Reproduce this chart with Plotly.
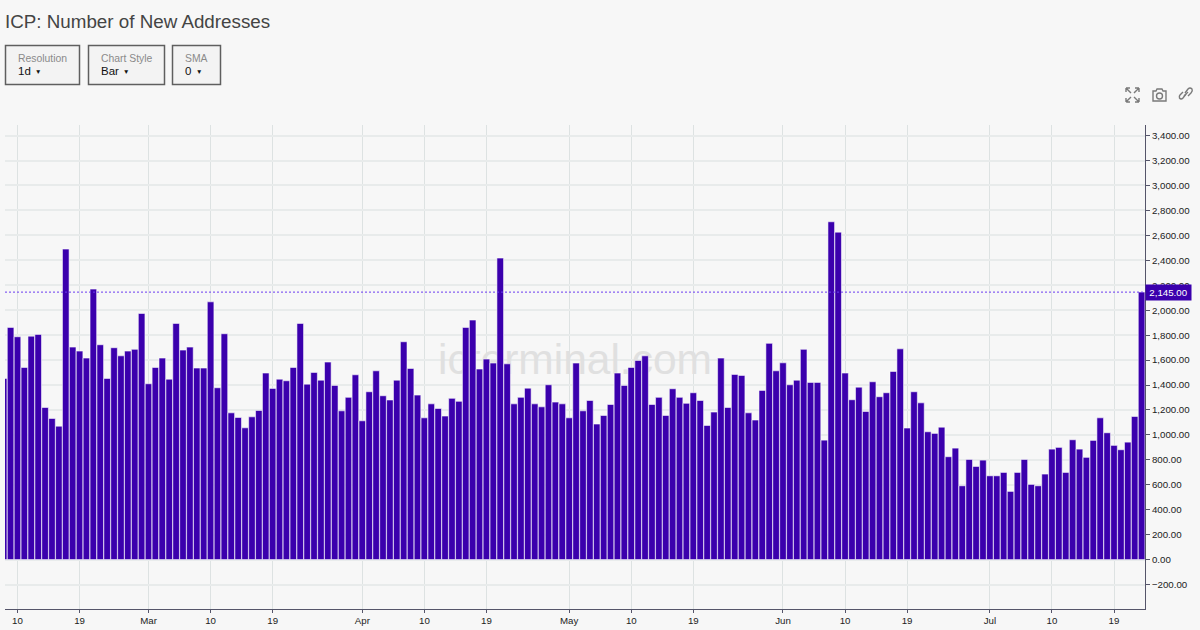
import pandas as pd
import plotly.graph_objects as go

FONT = "Liberation Sans"
TICK_FONT = "Liberation Sans"
BAR_COLOR = "#3b00ad"

values = [
    1453, 1862, 1787, 1541, 1792, 1806, 1220, 1132, 1070, 2490, 1704, 1672, 1616, 2169, 1723, 1453,
    1699, 1634, 1672, 1686, 1974,
    1410, 1541, 1616, 1447, 1894, 1680, 1704, 1536, 1536, 2067, 1378, 1811, 1177, 1140, 1057, 1145,
    1196, 1496, 1373, 1447, 1434, 1541, 1894, 1407, 1501, 1439, 1584, 1397, 1193, 1301, 1482,
    1113, 1346, 1514, 1314, 1280, 1439, 1747, 1533, 1319, 1137, 1249, 1212, 1151, 1293, 1269, 1862,
    1921, 1528, 1608, 1576, 2418, 1570, 1249, 1301, 1375, 1249, 1225, 1402, 1263, 1249,
    1137, 1576, 1193, 1276, 1087, 1156, 1244, 1496, 1397, 1541, 1597, 1634, 1244, 1301, 1156, 1370,
    1301, 1253, 1338, 1276, 1076, 1183, 1616, 1220, 1485, 1477, 1177, 1119, 1357, 1734, 1514,
    1578, 1402, 1439, 1686, 1421, 1421, 958, 2709, 2626, 1496, 1282, 1383, 1188, 1426, 1306, 1338,
    1509, 1690, 1055, 1346, 1257, 1025, 1012, 1062, 825, 894, 592, 803, 747, 798,
    672, 672, 699, 547, 699, 803, 603, 592, 686, 886, 900, 699, 961, 886, 820, 956, 1137, 1017,
    916, 881, 942, 1148, 2145,
]
dates = pd.date_range("2023-02-08", periods=len(values), freq="D")

x_tick_dates = ["2023-02-10", "2023-02-19", "2023-03-01", "2023-03-10", "2023-03-19", "2023-04-01",
                "2023-04-10", "2023-04-19", "2023-05-01", "2023-05-10", "2023-05-19", "2023-06-01",
                "2023-06-10", "2023-06-19", "2023-07-01", "2023-07-10", "2023-07-19"]
x_tick_labels = ["10", "19", "Mar", "10", "19", "Apr", "10", "19", "May", "10", "19", "Jun",
                 "10", "19", "Jul", "10", "19"]
y_ticks = list(range(-200, 3401, 200))

title_text = "ICP: Number of New Addresses"
watermark = "icterminal.com"
buttons = [("Resolution", "1d"), ("Chart Style", "Bar"), ("SMA", "0")]

# chrome geometry (page pixels)
L, R, T, B = 5, 1145, 125, 609
def px(x): return (x - L) / (R - L)
def py(y): return (B - y) / (B - T)

shapes, annotations = [], []

def text(x, y, s, size, color, anchor="left", **kw):
    annotations.append(dict(text=s, x=px(x), y=py(y), xref="paper", yref="paper", xanchor=anchor,
                            yanchor="middle", showarrow=False, font=dict(family=FONT, size=size, color=color),
                            **kw))

def path(d, color, width=1.5, fill=None):
    parts = []
    toks = d.split()
    i = 0
    while i < len(toks):
        t = toks[i]
        if t in "MLQC":
            parts.append(t); i += 1
        elif t == "Z":
            parts.append("Z"); i += 1
        else:
            parts.append(f"{px(float(t)):.5f},{py(float(toks[i+1])):.5f}"); i += 2
    shapes.append(dict(type="path", path=" ".join(parts), xref="paper", yref="paper",
                       line=dict(color=color, width=width), fillcolor=fill, layer="above"))

def rect(x0, y0, x1, y1, line, width, fill=None):
    shapes.append(dict(type="rect", xref="paper", yref="paper", x0=px(x0), x1=px(x1), y0=py(y0), y1=py(y1),
                       line=dict(color=line, width=width), fillcolor=fill, layer="above"))

# title
text(3, 21, title_text, 18.8, "#444444")

# control buttons
boxes = [(5, 80), (88, 165), (172, 221)]
for (x0, x1), (lab, val) in zip(boxes, buttons):
    rect(x0 + .5, 45.5, x1 - .5, 84.5, "#5f5f5f", 1.5, "#f3f3f3")
    text(x0 + 11, 59, lab, 10.4, "#8a8a8a")
    text(x0 + 11, 71, val, 11.5, "#111111")
arrow_x = [38, 125.5, 199]
for ax_ in arrow_x:
    text(ax_, 71, "▼", 6.5, "#111111", anchor="center")

# toolbar icons
ic = "#7a7a7a"
for d in ["M 1126 88 L 1130 88 M 1126 88 L 1126 92 M 1126 88 L 1131 93",
          "M 1139 88 L 1135 88 M 1139 88 L 1139 92 M 1139 88 L 1134 93",
          "M 1126 102 L 1130 102 M 1126 102 L 1126 98 M 1126 102 L 1131 97",
          "M 1139 102 L 1135 102 M 1139 102 L 1139 98 M 1139 102 L 1134 97"]:
    path(d, ic, 1.4)
path("M 1153 91 L 1156 91 L 1157 89 L 1162 89 L 1163 91 L 1166 91 L 1166 101 L 1153 101 Z", ic, 1.4)
shapes.append(dict(type="circle", xref="paper", yref="paper", x0=px(1156.5), x1=px(1162.5),
                   y0=py(93), y1=py(99), line=dict(color=ic, width=1.4), layer="above"))
path("M 1185 93 L 1188 89 Q 1190 87 1192 89 Q 1193 91 1191 93 L 1188 96", ic, 1.4)
path("M 1186 94 L 1183 98 Q 1181 100 1179.5 98 Q 1179 96 1180 95 L 1183 92", ic, 1.4)
path("M 1184 96 L 1188 92", ic, 1.2)

# last-value guide and tag
shapes.append(dict(type="line", xref="paper", yref="y", x0=0, x1=1, y0=values[-1], y1=values[-1],
                   line=dict(color="#6a3cf0", width=1, dash="2px,2px"), layer="above"))
annotations.append(dict(text=f"{values[-1]:,.2f}", x=1, y=values[-1], xref="paper", yref="y", xanchor="left",
                        yanchor="middle", showarrow=False, bgcolor=BAR_COLOR, width=45, height=15,
                        align="center", borderpad=0, xshift=0,
                        font=dict(family=TICK_FONT, size=9.7, color="#ffffff")))

fig = go.Figure()
# watermark sits on a hidden base plot so the bars paint over it
fig.add_trace(go.Scatter(x=[0.5], y=[0.508], mode="text", text=[watermark], xaxis="x2", yaxis="y2",
                         textfont=dict(family=FONT, size=42.5, color="#e0e0e0"), hoverinfo="skip",
                         showlegend=False, cliponaxis=False))
fig.add_trace(go.Bar(x=dates, y=values, marker=dict(color=BAR_COLOR, line=dict(color="rgba(255,255,255,0.55)", width=1)),
                     showlegend=False))

fig.update_layout(
    width=1200, height=630, autosize=False,
    margin=dict(l=L, r=1200 - R, t=T, b=630 - B),
    paper_bgcolor="#f7f7f7", plot_bgcolor="rgba(0,0,0,0)",
    bargap=0.04, showlegend=False,
    shapes=shapes, annotations=annotations,
    font=dict(family=FONT, size=10, color="#222222"),
    xaxis=dict(type="date", overlaying="x2", range=["2023-02-08 04:30", "2023-07-23 11:50"], automargin=False,
               tickmode="array", tickvals=x_tick_dates, ticktext=x_tick_labels,
               showgrid=True, gridcolor="#dde2e2", gridwidth=1, zeroline=False,
               showline=True, linecolor="#55556a", linewidth=1, ticklabelstandoff=-1,
               ticks="outside", ticklen=3, tickcolor="#55556a", tickfont=dict(family=TICK_FONT, size=9.7, color="#222222")),
    yaxis=dict(side="right", overlaying="y2", range=[-396, 3485], tickmode="array", tickvals=y_ticks, automargin=False,
               tickformat=",.2f", showgrid=True, gridcolor="#e8ebeb", gridwidth=1.5, zeroline=False,
               showline=True, linecolor="#55556a", linewidth=1, ticks="outside", ticklen=4,
               tickcolor="#55556a", tickfont=dict(family=TICK_FONT, size=9.7, color="#222222")),
    xaxis2=dict(range=[0, 1], visible=False, fixedrange=True),
    yaxis2=dict(range=[0, 1], visible=False, fixedrange=True),
)

fig.write_html("out.html", config=dict(displayModeBar=False),
               post_script="document.body.style.margin='0';document.body.style.background='#f7f7f7';")
